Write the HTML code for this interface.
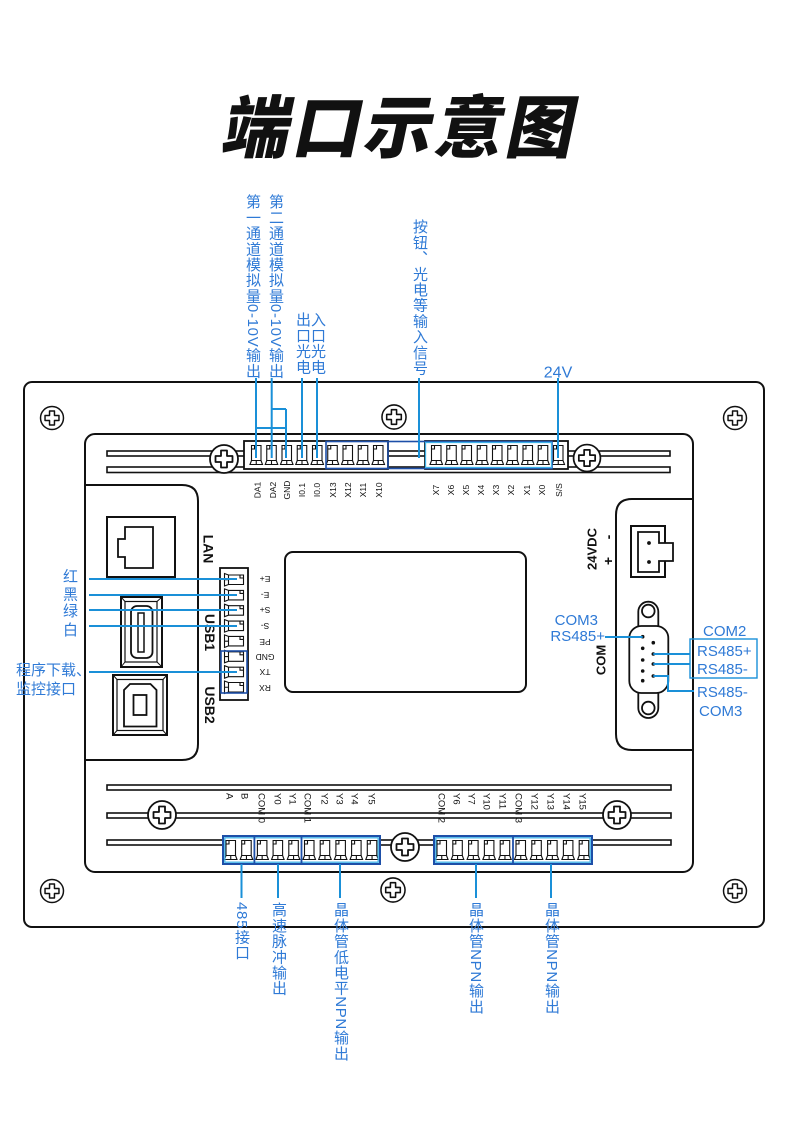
<!DOCTYPE html>
<html><head><meta charset="utf-8">
<style>
html,body{margin:0;padding:0;background:#fff;}
body{width:790px;height:1121px;position:relative;overflow:hidden;}
svg{position:absolute;left:0;top:0;}
.v{position:absolute;writing-mode:vertical-rl;text-orientation:mixed;font-family:"Liberation Sans","Noto Sans CJK SC",sans-serif;font-size:15px;line-height:16px;width:16px;color:#2f7ad6;letter-spacing:0.7px;white-space:nowrap;}
</style></head>
<body>
<svg width="790" height="1121" viewBox="0 0 790 1121">
<defs>
 <g id="sl"><path d="M3,4.5H12.5V19.5H3Z M3,19.5L1.5,23.5H14L12.5,19.5 M3,8H6V4.5 M7.75,19.5V23.5" fill="none" stroke="#111" stroke-width="1.1"/></g>
 <g id="sc"><circle r="14" fill="#fff" stroke="#111" stroke-width="1.8"/><path d="M-3,-8.5H3V-3H8.5V3H3V8.5H-3V3H-8.5V-3H-3Z" fill="none" stroke="#111" stroke-width="1.8" stroke-linejoin="round"/></g>
</defs>

<!-- Title -->
<text transform="translate(397,152) skewX(-12)" text-anchor="middle" font-size="68" font-weight="900" letter-spacing="3" font-family="Noto Sans CJK SC, sans-serif" fill="#111">端口示意图</text>

<!-- Panels -->
<rect x="24" y="382" width="740" height="545" rx="8" fill="#fff" stroke="#111" stroke-width="2"/>
<rect x="85" y="434" width="608" height="438" rx="10" fill="#fff" stroke="#111" stroke-width="2"/>
<path d="M85,485H182Q198,485 198,501V744Q198,760 182,760H85" fill="none" stroke="#111" stroke-width="2"/>
<path d="M693,499H632Q616,499 616,515V734Q616,750 632,750H693" fill="none" stroke="#111" stroke-width="2"/>

<!-- Rails -->
<g fill="#fff" stroke="#111" stroke-width="1.6">
<rect x="107" y="451" width="563" height="5"/>
<rect x="107" y="467" width="563" height="5.5"/>
<rect x="107" y="785" width="564" height="5"/>
<rect x="107" y="813" width="564" height="5"/>
<rect x="107" y="840" width="564" height="5"/>
</g>

<!-- Screen -->
<rect x="285" y="552" width="241" height="140" rx="8" fill="#fff" stroke="#111" stroke-width="2"/>

<!-- LAN -->
<rect x="107" y="517" width="68" height="60" fill="#fff" stroke="#111" stroke-width="2"/>
<path d="M153,527H125V539H118V557H125V568H153Z" fill="none" stroke="#111" stroke-width="1.8"/>
<!-- USB1 -->
<rect x="121" y="597" width="41" height="70" fill="#fff" stroke="#111" stroke-width="2"/>
<rect x="125" y="601.5" width="32" height="60.5" fill="none" stroke="#111" stroke-width="1.2"/>
<path d="M121,597L125,601.5M162,597L157,601.5M121,667L125,662M162,667L157,662" stroke="#111" stroke-width="1"/>
<rect x="131" y="606" width="21.5" height="52" rx="6" fill="none" stroke="#111" stroke-width="1.8"/>
<rect x="138" y="613" width="6" height="39" fill="none" stroke="#111" stroke-width="1.5"/>
<!-- USB2 -->
<rect x="113" y="675" width="54" height="60" fill="#fff" stroke="#111" stroke-width="2"/>
<rect x="117" y="679.5" width="46" height="51" fill="none" stroke="#111" stroke-width="1.2"/>
<path d="M113,675L117,679.5M167,675L163,679.5M113,735L117,730.5M167,735L163,730.5" stroke="#111" stroke-width="1"/>
<path d="M124,726.5V690L130,684H150.5L156.5,690V726.5Z" fill="none" stroke="#111" stroke-width="1.8"/>
<rect x="133.5" y="695" width="13" height="20" fill="none" stroke="#111" stroke-width="1.8"/>

<!-- Power connector -->
<rect x="631" y="526" width="34" height="51" fill="#fff" stroke="#111" stroke-width="2"/>
<path d="M638,532H659V543H673V561H659V572H638Z" fill="#fff" stroke="#111" stroke-width="1.8"/>
<circle cx="649" cy="543" r="1.9" fill="#111"/><circle cx="649" cy="562" r="1.9" fill="#111"/>

<!-- DB9 -->
<path d="M638.3,627V611.7A10,10 0 0 1 658.3,611.7V627" fill="#fff" stroke="#111" stroke-width="1.8"/>
<circle cx="648.3" cy="611" r="6.3" fill="none" stroke="#111" stroke-width="1.8"/>
<path d="M638.3,692V708A10,10 0 0 0 658.3,708V692" fill="#fff" stroke="#111" stroke-width="1.8"/>
<circle cx="648.3" cy="708" r="6.3" fill="none" stroke="#111" stroke-width="1.8"/>
<rect x="629.3" y="626" width="39" height="67" rx="12" fill="#fff" stroke="#111" stroke-width="1.8"/>
<g fill="#111">
<circle cx="642.7" cy="636.7" r="1.8"/><circle cx="642.7" cy="648.3" r="1.8"/><circle cx="642.7" cy="660" r="1.8"/><circle cx="642.7" cy="671" r="1.8"/><circle cx="642.7" cy="680.7" r="1.8"/>
<circle cx="653.3" cy="642.7" r="1.8"/><circle cx="653.3" cy="654" r="1.8"/><circle cx="653.3" cy="664" r="1.8"/><circle cx="653.3" cy="676" r="1.8"/>
</g>

<!-- Screws -->
<use href="#sc" transform="translate(52,418) scale(0.82)"/>
<use href="#sc" transform="translate(735,418) scale(0.82)"/>
<use href="#sc" transform="translate(52,891) scale(0.82)"/>
<use href="#sc" transform="translate(735,891) scale(0.82)"/>
<use href="#sc" transform="translate(394,417) scale(0.86)"/>
<use href="#sc" transform="translate(393,890) scale(0.86)"/>
<use href="#sc" transform="translate(224,459)"/>
<use href="#sc" transform="translate(587,458) scale(0.96)"/>
<use href="#sc" transform="translate(162,815)"/>
<use href="#sc" transform="translate(617,815)"/>
<use href="#sc" transform="translate(405,847)"/>

<!-- Top blocks -->
<rect x="244" y="441" width="144" height="28" fill="#fff" stroke="#111" stroke-width="1.8"/>
<rect x="425" y="441" width="143" height="28" fill="#fff" stroke="#111" stroke-width="1.8"/>
<g>
<use href="#sl" x="248.5" y="441"/><use href="#sl" x="263.75" y="441"/><use href="#sl" x="279" y="441"/><use href="#sl" x="294.25" y="441"/><use href="#sl" x="309.5" y="441"/><use href="#sl" x="324.75" y="441"/><use href="#sl" x="340" y="441"/><use href="#sl" x="355.25" y="441"/><use href="#sl" x="370.5" y="441"/>
<use href="#sl" x="428.5" y="441"/><use href="#sl" x="443.75" y="441"/><use href="#sl" x="459" y="441"/><use href="#sl" x="474.25" y="441"/><use href="#sl" x="489.5" y="441"/><use href="#sl" x="504.75" y="441"/><use href="#sl" x="520" y="441"/><use href="#sl" x="535.25" y="441"/><use href="#sl" x="550.5" y="441"/>
</g>
<rect x="326" y="441.5" width="226" height="27" fill="none" stroke="#1d4fa8" stroke-width="1.6"/>
<rect x="425.5" y="442.5" width="126" height="25" fill="none" stroke="#3fb2e8" stroke-width="1.3"/>
<line x1="388" y1="441.5" x2="388" y2="468.5" stroke="#1d4fa8" stroke-width="1.6"/>

<!-- Bottom blocks -->
<rect x="223" y="836" width="157" height="28" fill="#fff" stroke="#1d4fa8" stroke-width="2"/>
<rect x="434" y="836" width="158" height="28" fill="#fff" stroke="#1d4fa8" stroke-width="2"/>
<g>
<use href="#sl" x="223" y="836"/><use href="#sl" x="238.7" y="836"/><use href="#sl" x="254.4" y="836"/><use href="#sl" x="270.1" y="836"/><use href="#sl" x="285.8" y="836"/><use href="#sl" x="301.5" y="836"/><use href="#sl" x="317.2" y="836"/><use href="#sl" x="332.9" y="836"/><use href="#sl" x="348.6" y="836"/><use href="#sl" x="364.3" y="836"/>
<use href="#sl" x="434" y="836"/><use href="#sl" x="449.8" y="836"/><use href="#sl" x="465.6" y="836"/><use href="#sl" x="481.4" y="836"/><use href="#sl" x="497.2" y="836"/><use href="#sl" x="513" y="836"/><use href="#sl" x="528.8" y="836"/><use href="#sl" x="544.6" y="836"/><use href="#sl" x="560.4" y="836"/><use href="#sl" x="576.2" y="836"/>
</g>
<g fill="none" stroke-width="1.3" stroke="#3fb2e8">
<rect x="224.8" y="837.8" width="153.4" height="24.4"/>
<rect x="435.8" y="837.8" width="154.4" height="24.4"/>
</g>
<g stroke="#1d4fa8" stroke-width="1.8">
<line x1="254.4" y1="836" x2="254.4" y2="864"/><line x1="301.5" y1="836" x2="301.5" y2="864"/>
<line x1="513" y1="836" x2="513" y2="864"/>
</g>

<!-- Left vertical block -->
<rect x="220" y="568" width="28" height="132" fill="#fff" stroke="#111" stroke-width="1.8"/>
<g>
<use href="#sl" transform="translate(248,572) rotate(90)"/><use href="#sl" transform="translate(248,587.4) rotate(90)"/><use href="#sl" transform="translate(248,602.7) rotate(90)"/><use href="#sl" transform="translate(248,618.1) rotate(90)"/><use href="#sl" transform="translate(248,633.4) rotate(90)"/><use href="#sl" transform="translate(248,648.8) rotate(90)"/><use href="#sl" transform="translate(248,664.2) rotate(90)"/><use href="#sl" transform="translate(248,679.5) rotate(90)"/>
</g>
<rect x="221" y="651" width="26" height="42" fill="none" stroke="#1d4fa8" stroke-width="1.6"/>

<!-- Black small labels -->
<g font-family="Liberation Sans, sans-serif" font-size="8.5" fill="#111" text-anchor="middle">
<text transform="translate(257.5,490) rotate(-90)" dy="0.35em">DA1</text>
<text transform="translate(273,490) rotate(-90)" dy="0.35em">DA2</text>
<text transform="translate(287,490) rotate(-90)" dy="0.35em">GND</text>
<text transform="translate(302,490) rotate(-90)" dy="0.35em">I0.1</text>
<text transform="translate(317,490) rotate(-90)" dy="0.35em">I0.0</text>
<text transform="translate(333,490) rotate(-90)" dy="0.35em">X13</text>
<text transform="translate(348,490) rotate(-90)" dy="0.35em">X12</text>
<text transform="translate(363,490) rotate(-90)" dy="0.35em">X11</text>
<text transform="translate(379,490) rotate(-90)" dy="0.35em">X10</text>
<text transform="translate(436,490) rotate(-90)" dy="0.35em">X7</text>
<text transform="translate(451,490) rotate(-90)" dy="0.35em">X6</text>
<text transform="translate(466,490) rotate(-90)" dy="0.35em">X5</text>
<text transform="translate(481,490) rotate(-90)" dy="0.35em">X4</text>
<text transform="translate(496,490) rotate(-90)" dy="0.35em">X3</text>
<text transform="translate(511,490) rotate(-90)" dy="0.35em">X2</text>
<text transform="translate(527,490) rotate(-90)" dy="0.35em">X1</text>
<text transform="translate(542,490) rotate(-90)" dy="0.35em">X0</text>
<text transform="translate(559,490) rotate(-90)" dy="0.35em">S/S</text>

<text transform="translate(265,579) rotate(180)" dy="0.35em">E+</text>
<text transform="translate(265,595) rotate(180)" dy="0.35em">E-</text>
<text transform="translate(265,610) rotate(180)" dy="0.35em">S+</text>
<text transform="translate(265,626) rotate(180)" dy="0.35em">S-</text>
<text transform="translate(265,642) rotate(180)" dy="0.35em">PE</text>
<text transform="translate(265,657) rotate(180)" dy="0.35em">GND</text>
<text transform="translate(265,672) rotate(180)" dy="0.35em">TX</text>
<text transform="translate(265,688) rotate(180)" dy="0.35em">RX</text>
</g>
<g font-family="Liberation Sans, sans-serif" font-size="9.5" fill="#111">
<text transform="translate(230,793) rotate(90)" dy="0.35em">A</text>
<text transform="translate(245,793) rotate(90)" dy="0.35em">B</text>
<text transform="translate(262,793) rotate(90)" dy="0.35em">COM 0</text>
<text transform="translate(278,793) rotate(90)" dy="0.35em">Y0</text>
<text transform="translate(293,793) rotate(90)" dy="0.35em">Y1</text>
<text transform="translate(308,793) rotate(90)" dy="0.35em">COM 1</text>
<text transform="translate(325,793) rotate(90)" dy="0.35em">Y2</text>
<text transform="translate(340,793) rotate(90)" dy="0.35em">Y3</text>
<text transform="translate(355,793) rotate(90)" dy="0.35em">Y4</text>
<text transform="translate(372,793) rotate(90)" dy="0.35em">Y5</text>
<text transform="translate(442,793) rotate(90)" dy="0.35em">COM 2</text>
<text transform="translate(457,793) rotate(90)" dy="0.35em">Y6</text>
<text transform="translate(472,793) rotate(90)" dy="0.35em">Y7</text>
<text transform="translate(487,793) rotate(90)" dy="0.35em">Y10</text>
<text transform="translate(503,793) rotate(90)" dy="0.35em">Y11</text>
<text transform="translate(519,793) rotate(90)" dy="0.35em">COM 3</text>
<text transform="translate(535,793) rotate(90)" dy="0.35em">Y12</text>
<text transform="translate(551,793) rotate(90)" dy="0.35em">Y13</text>
<text transform="translate(567,793) rotate(90)" dy="0.35em">Y14</text>
<text transform="translate(583,793) rotate(90)" dy="0.35em">Y15</text>
</g>

<!-- Bold labels -->
<g font-family="Liberation Sans, sans-serif" font-weight="700" fill="#111" text-anchor="middle">
<text transform="translate(208.5,549) rotate(90)" dy="0.36em" font-size="14">LAN</text>
<text transform="translate(210,632.5) rotate(90)" dy="0.36em" font-size="14">USB1</text>
<text transform="translate(210,705) rotate(90)" dy="0.36em" font-size="14">USB2</text>
<text transform="translate(592,549) rotate(-90)" dy="0.36em" font-size="13">24VDC</text>
<text transform="translate(608,537) rotate(-90)" dy="0.36em" font-size="14">-</text>
<text transform="translate(608,561) rotate(-90)" dy="0.36em" font-size="14">+</text>
<text transform="translate(601,660) rotate(-90)" dy="0.36em" font-size="13">COM</text>
</g>

<!-- Blue connector lines -->
<g stroke="#1a90d8" stroke-width="2" fill="none">
<path d="M256,378V458"/>
<path d="M271.7,378V458"/>
<path d="M286,409V458M256,428H286M271.7,409H286"/>
<path d="M302,378V458"/>
<path d="M317,378V458"/>
<path d="M419,378V458"/>
<path d="M558,378V458"/>
<path d="M89,579H237M89,595H237M89,610H237M89,626H237M89,672H237"/>
<path d="M605,637H642.7"/>
<path d="M653.3,654H690M653.3,664H690"/>
<path d="M653.3,676H668V691H694"/>
<path d="M241.5,864V898M278,864V898M340,864V898M476,864V898M551,864V898"/>
</g>
<rect x="690" y="639" width="67" height="39" fill="none" stroke="#1a90d8" stroke-width="1.4"/>

<!-- Blue horizontal texts -->
<g font-family="Liberation Sans, Noto Sans CJK SC, sans-serif" font-size="15" fill="#2f7ad6">
<text x="558" y="377.5" text-anchor="middle" font-size="16">24V</text>
<text x="598" y="625" text-anchor="end">COM3</text>
<text x="605" y="641" text-anchor="end">RS485+</text>
<text x="703" y="636">COM2</text>
<text x="697" y="656">RS485+</text>
<text x="697" y="674">RS485-</text>
<text x="697" y="697">RS485-</text>
<text x="699" y="716">COM3</text>
<text x="70.5" y="581.5" text-anchor="middle">红</text>
<text x="70.5" y="599.5" text-anchor="middle">黑</text>
<text x="70.5" y="616" text-anchor="middle">绿</text>
<text x="70.5" y="635" text-anchor="middle">白</text>
<text x="16" y="675">程序下载、</text>
<text x="16" y="694">监控接口</text>
</g>
</svg>

<!-- Vertical blue labels -->
<div class="v" style="left:244px;top:194px;">第一通道模拟量0-10V输出</div>
<div class="v" style="left:267px;top:194px;">第二通道模拟量0-10V输出</div>
<div class="v" style="left:294px;top:312px;">出口光电</div>
<div class="v" style="left:309px;top:312px;">入口光电</div>
<div class="v" style="left:411px;top:219px;">按钮、光电等输入信号</div>
<div class="v" style="left:233px;top:902px;">485接口</div>
<div class="v" style="left:270px;top:902px;">高速脉冲输出</div>
<div class="v" style="left:332px;top:902px;">晶体管低电平NPN输出</div>
<div class="v" style="left:467px;top:902px;">晶体管NPN输出</div>
<div class="v" style="left:543px;top:902px;">晶体管NPN输出</div>
</body></html>
